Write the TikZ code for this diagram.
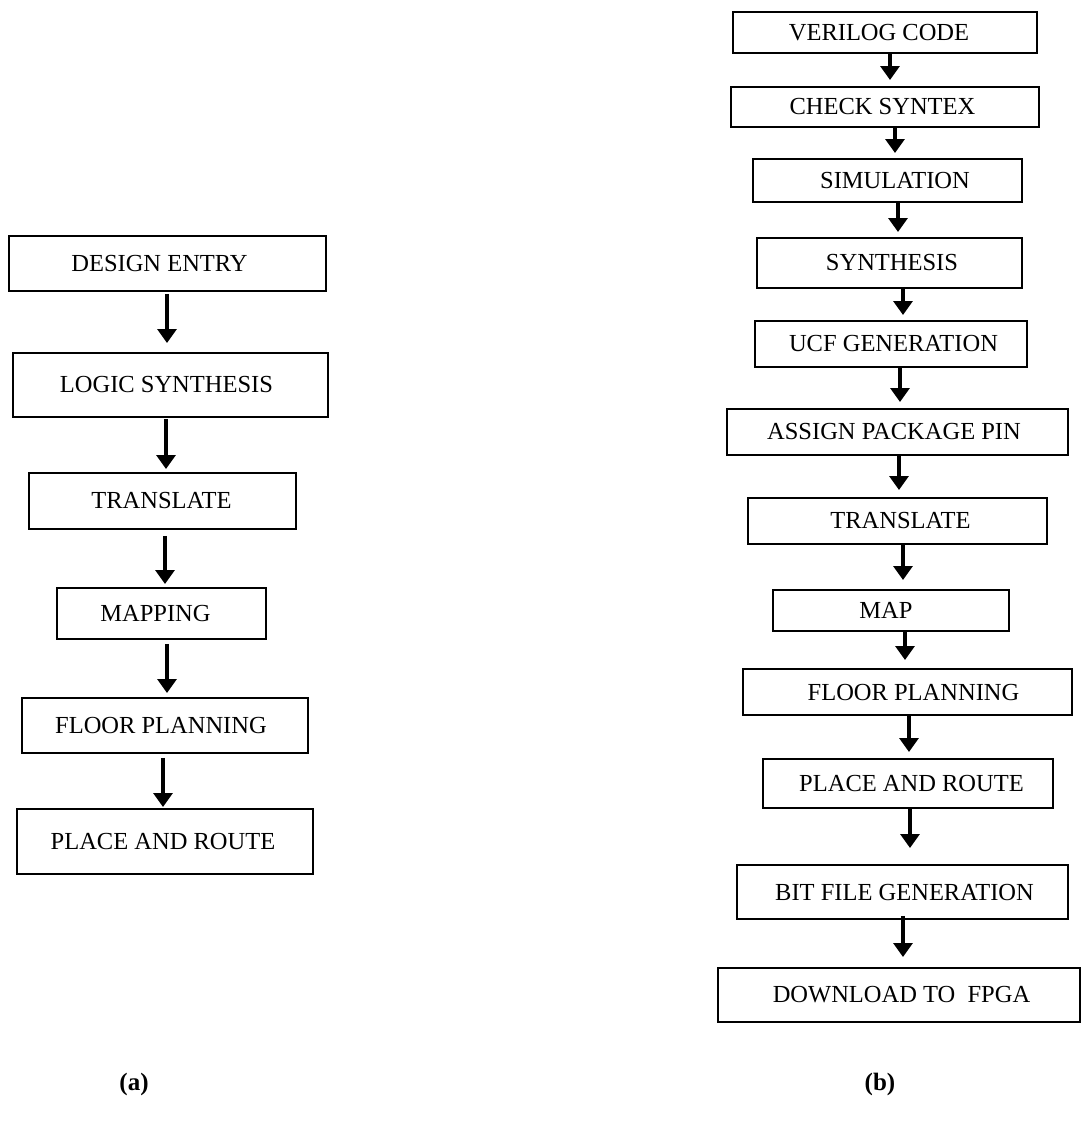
\documentclass[tikz,border=0pt]{standalone}
\usepackage{fontspec}
\setmainfont{Liberation Serif}
\usetikzlibrary{arrows.meta,calc}

\tikzset{
  stepbox/.style={draw=black, line width=1.6pt, rectangle, inner sep=0pt,
    font=\fontsize{24.5}{27}\selectfont, text=black},
  tx/.style={execute at begin node={\hspace*{#1}}},
  flowarrow/.style={line width=3.2pt, -{Triangle[width=19pt,length=14pt]}},
  caption/.style={font=\fontsize{25}{28}\selectfont\bfseries}
}

% box helper: name, centre x, centre y, width, height, text shift, text
\newcommand\flowbox[7]{%
  \node[stepbox, tx=#6, minimum width=#4pt, minimum height=#5pt] (#1) at (#2,#3) {#7};}

\begin{document}
\begin{tikzpicture}[x=1pt,y=-1pt]
\useasboundingbox (0,0) rectangle (1081,1122);

% ---- (a) generic FPGA design flow ----
\flowbox{a1}{167.5}{263.5}{317}{55}{-16pt}{DESIGN ENTRY}
\flowbox{a2}{170.5}{385}{315}{64}{-8pt}{LOGIC SYNTHESIS}
\flowbox{a3}{162.5}{501}{267}{56}{-2pt}{TRANSLATE}
\flowbox{a4}{161.5}{613.5}{209}{51}{-12pt}{MAPPING}
\flowbox{a5}{165}{725.5}{286}{55}{-8pt}{FLOOR PLANNING}
\flowbox{a6}{165}{841.5}{296}{65}{-4pt}{PLACE AND ROUTE}

\draw[flowarrow] (a1.south -| 167,0) ++(0,2) -- (167,343);
\draw[flowarrow] (a2.south -| 166,0) ++(0,1) -- (166,469);
\draw[flowarrow] (a3.south -| 165,0) ++(0,6) -- (165,584);
\draw[flowarrow] (a4.south -| 167,0) ++(0,4) -- (167,693);
\draw[flowarrow] (a5.south -| 163,0) ++(0,4) -- (163,807);

% ---- (b) Xilinx implementation flow ----
\flowbox{b1}{885}{32.5}{304}{41}{-12pt}{VERILOG CODE}
\flowbox{b2}{885}{107}{308}{40}{-5pt}{CHECK SYNTEX}
\flowbox{b3}{887.5}{180.5}{269}{43}{15pt}{SIMULATION}
\flowbox{b4}{889.5}{263}{265}{50}{5pt}{SYNTHESIS}
\flowbox{b5}{891}{344}{272}{46}{5pt}{UCF GENERATION}
\flowbox{b6}{897.5}{432}{341}{46}{-7pt}{ASSIGN PACKAGE PIN}
\flowbox{b7}{897.5}{521}{299}{46}{6pt}{TRANSLATE}
\flowbox{b8}{891}{610.5}{236}{41}{-10pt}{MAP}
\flowbox{b9}{907.5}{692}{329}{46}{12pt}{FLOOR PLANNING}
\flowbox{b10}{908}{783.5}{290}{49}{7pt}{PLACE AND ROUTE}
\flowbox{b11}{902.5}{892}{331}{54}{4pt}{BIT FILE GENERATION}
\flowbox{b12}{899}{995}{362}{54}{5pt}{DOWNLOAD TO~~FPGA}

\draw[flowarrow] (b1.south -| 890,0) -- (890,80);
\draw[flowarrow] (b2.south -| 895,0) -- (895,153);
\draw[flowarrow] (b3.south -| 898,0) -- (898,232);
\draw[flowarrow] (b4.south -| 903,0) -- (903,315);
\draw[flowarrow] (b5.south -| 900,0) -- (900,402);
\draw[flowarrow] (b6.south -| 899,0) -- (899,490);
\draw[flowarrow] (b7.south -| 903,0) -- (903,580);
\draw[flowarrow] (b8.south -| 905,0) -- (905,660);
\draw[flowarrow] (b9.south -| 909,0) -- (909,752);
\draw[flowarrow] (b10.south -| 910,0) -- (910,848);
\draw[flowarrow] (b11.south -| 903,0) ++(0,-4) -- (903,957);

% ---- captions ----
\node[caption] (capa) at (134,1084) {(a)};
\node[caption] (capb) at (880,1084) {(b)};
\end{tikzpicture}
\end{document}
